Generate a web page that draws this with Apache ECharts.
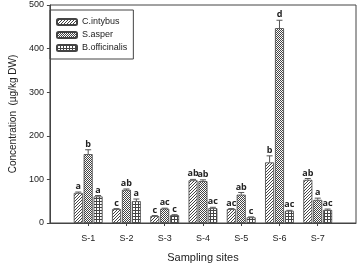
<!DOCTYPE html>
<html><head><meta charset="utf-8">
<script src="https://cdn.jsdelivr.net/npm/echarts@6/dist/echarts.min.js"></script>
<style>html,body{margin:0;padding:0;background:#fff}#c{width:359px;height:268px}</style>
</head><body><div id="c"></div>
<script>
var categories = ['', 'S-1', 'S-2', 'S-3', 'S-4', 'S-5', 'S-6', 'S-7', ''];
var seriesNames = ['C.intybus', 'S.asper', 'B.officinalis'];
var cIntybus = [69, 32, 16, 98, 32, 139, 99];
var sAsper = [158, 76, 33, 96, 65, 447, 53];
var bOfficinalis = [61, 50, 18, 34, 13, 28, 30];
var cIntybusErr = [2, 1, 1, 2, 1, 15, 3];
var sAsperErr = [10, 2, 1, 3, 5, 18, 4];
var bOfficinalisErr = [2, 5, 1, 2, 1, 1, 2];
var cIntybusLetters = ['a', 'c', 'c', 'ab', 'ac', 'b', 'ab'];
var sAsperLetters = ['b', 'ab', 'ac', 'ab', 'ab', 'd', 'a'];
var bOfficinalisLetters = ['a', 'a', 'c', 'ac', 'c', 'ac', 'ac'];
var yTicks = [0, 100, 200, 300, 400, 500];

function makePattern(kind) {
  var cv = document.createElement('canvas');
  var s = kind === 'checker' ? 2 : 3;
  cv.width = s; cv.height = s;
  var g = cv.getContext('2d');
  g.fillStyle = '#ffffff'; g.fillRect(0, 0, s, s);
  g.fillStyle = '#444';
  if (kind === 'hatch') {
    for (var i = 0; i < s; i++) { g.fillRect(s - 1 - i, i, 1, 1); }
  } else if (kind === 'checker') {
    g.fillRect(0, 0, 1, 1); g.fillRect(1, 1, 1, 1);
  } else {
    g.fillRect(0, 0, s, 1); g.fillRect(0, 0, 1, s);
  }
  return { image: cv, repeat: 'repeat' };
}
var patterns = [makePattern('hatch'), makePattern('checker'), makePattern('grid')];

var vals = [cIntybus, sAsper, bOfficinalis];
var errs = [cIntybusErr, sAsperErr, bOfficinalisErr];
var letters = [cIntybusLetters, sAsperLetters, bOfficinalisLetters];
var BW = 9, GAP = 0.9;

var series = [];
seriesNames.forEach(function (n, k) {
  series.push({
    name: n, type: 'bar', barWidth: BW, barGap: '10%',
    data: [null].concat(vals[k]).concat([null]),
    itemStyle: { color: patterns[k], borderColor: '#444', borderWidth: 0.8 },
    z: 2
  });
});
seriesNames.forEach(function (n, k) {
  var d = vals[k].map(function (v, i) { return [i + 1, v, errs[k][i], letters[k][i]]; });
  series.push({
    type: 'custom', name: n + '_err', z: 3,
    data: d,
    renderItem: function (params, api) {
      var x = api.value(0), v = api.value(1), e = api.value(2);
      var lt = d[params.dataIndex][3];
      var off = (k - 1) * (BW + GAP);
      var p0 = api.coord([x, v]);
      var p1 = api.coord([x, v + e]);
      var cx = p0[0] + off;
      var st = { stroke: '#555', lineWidth: 1 };
      return {
        type: 'group', children: [
          { type: 'line', shape: { x1: cx, y1: p0[1], x2: cx, y2: p1[1] }, style: st },
          { type: 'line', shape: { x1: cx - 3, y1: p1[1], x2: cx + 3, y2: p1[1] }, style: st },
          { type: 'text', style: { text: lt, x: cx, y: p1[1] - 1, align: 'center', verticalAlign: 'bottom',
            font: 'bold 9px "Open Sans", sans-serif', fill: '#222' } }
        ]
      };
    }
  });
});

var chart = echarts.init(document.getElementById('c'), null, { renderer: 'canvas' });
chart.setOption({
  animation: false,
  grid: { left: 43, right: 3, top: 5, bottom: 38, show: true, borderColor: '#444', borderWidth: 1 },
  legend: {
    data: seriesNames, orient: 'vertical', left: 50, top: 10,
    itemWidth: 20, itemHeight: 6, itemGap: 3, padding: [7, 6, 6, 6],
    borderColor: '#444', borderWidth: 1,
    textStyle: { fontFamily: 'Liberation Sans', fontSize: 9, color: '#222', lineHeight: 10 }
  },
  xAxis: {
    type: 'category', data: categories, boundaryGap: false,
    name: 'Sampling sites', nameLocation: 'middle', nameGap: 29,
    nameTextStyle: { fontFamily: 'Liberation Sans', fontSize: 11, color: '#222' },
    axisLine: { lineStyle: { color: '#444' } },
    axisTick: { length: 3, lineStyle: { color: '#444' }, interval: function (i, v) { return v !== ''; } },
    axisLabel: { interval: 0, fontFamily: 'Liberation Sans', fontSize: 9, color: '#222', margin: 11 },
    splitLine: { show: false }
  },
  yAxis: {
    type: 'value', min: 0, max: 500, interval: 100,
    name: 'Concentration  (µg/kg DW)', nameLocation: 'middle', nameGap: 31,
    nameTextStyle: { fontFamily: 'Liberation Sans', fontSize: 10, color: '#222' },
    axisLine: { show: true, lineStyle: { color: '#444' } },
    axisTick: { show: true, length: 3, lineStyle: { color: '#444' } },
    axisLabel: { fontFamily: 'Liberation Sans', fontSize: 9, color: '#222', margin: 6,
      formatter: function (v) { return yTicks.indexOf(v) >= 0 ? String(v) : ''; } },
    splitLine: { show: false }
  },
  series: series
});
</script></body></html>
